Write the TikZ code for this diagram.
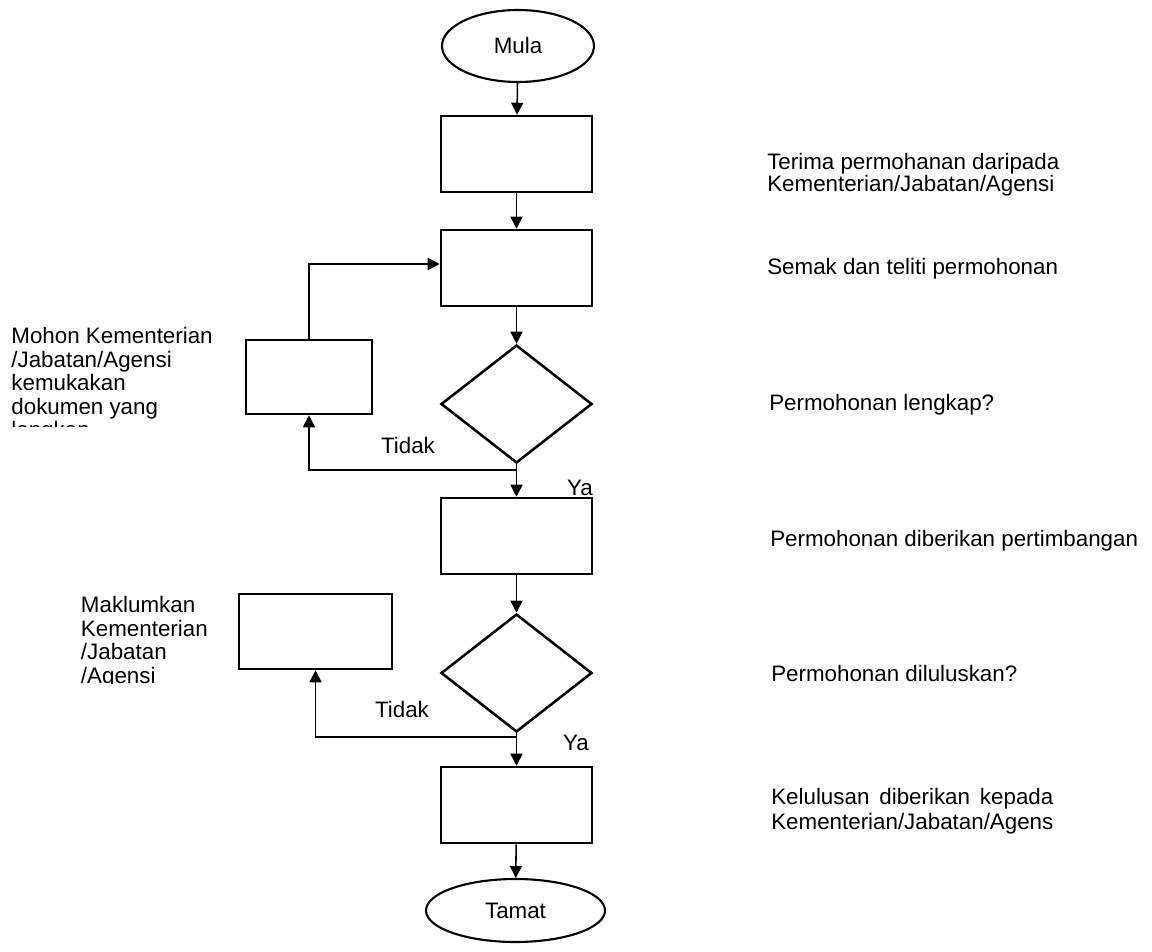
\documentclass[tikz,border=0pt]{standalone}
\usepackage{fontspec}
\setmainfont{Liberation Sans}
\usepackage{calc}
\usetikzlibrary{arrows.meta,shapes.geometric}

\begin{document}
\begin{tikzpicture}[x=0.25mm,y=-0.25mm,>={Triangle[length=3mm,width=3mm]},
                    font=\fontsize{15.9pt}{15.65pt}\selectfont,
                    block/.style={draw,line width=1.8pt,minimum width=37.75mm,
                                  minimum height=19mm,inner sep=0pt},
                    decision/.style={diamond,draw,line width=1.8pt,minimum width=37.75mm,
                                     minimum height=29.5mm,inner sep=0pt},
                    term/.style={ellipse,draw,line width=1.5pt,inner sep=0pt},
                    flow/.style={line width=1.1pt},
                    note/.style={anchor=north west,inner sep=0pt,align=left},
                    lbl/.style={inner sep=0pt}]
   \useasboundingbox (0,0) rectangle (1152,952);
   % main column
   \node[term,minimum width=38mm,minimum height=18mm] (mula) at (518,46) {Mula};
   \node[block] (terima) at (516.5,154) {};
   \node[block] (semak) at (516.5,268) {};
   \node[decision] (lengkap) at (516.5,404) {};
   \node[block] (timbang) at (516.5,536) {};
   \node[decision] (lulus) at (516.5,673) {};
   \node[block] (beri) at (516.5,805) {};
   \node[term,minimum width=44.75mm,minimum height=15.75mm] (tamat) at (515.5,910.5) {Tamat};
   % side boxes
   \node[block,minimum width=31.5mm,minimum height=18.5mm] (mohon) at (309,377) {};
   \node[block,minimum width=38.25mm,minimum height=18.75mm] (maklum) at (315.5,631.5) {};
   \coordinate (tidakA) at (516.5,470);
   \coordinate (tidakB) at (516.5,737);

   \draw[flow,->] (mula) -- (terima);
   \draw[flow,->] (terima) -- (semak);
   \draw[flow,->] (semak) -- (lengkap);
   \draw[flow,->] (lengkap) -- (timbang);
   \draw[flow,->] (timbang) -- (lulus);
   \draw[flow,->] (lulus) -- (beri);
   \draw[flow,->] (beri) -- (tamat);
   \draw[flow,->] (tidakA) -| (mohon);
   \draw[flow,->] (mohon) |- ([yshift=1mm]semak.west);
   \draw[flow,->] (tidakB) -| (maklum);

   \node[lbl] (tidakAlbl) at (408,446) {Tidak};
   \node[lbl] (yaA) at (580,488) {Ya};
   \node[lbl] (tidakBlbl) at (402,710) {Tidak};
   \node[lbl] (yaB) at (576,743) {Ya};

   % notes on the right
   \node[note] (tTerima) at (767,153) {Terima permohanan daripada\\Kementerian/Jabatan/Agensi};
   \node[note] (tSemak) at (767,258) {Semak dan teliti permohonan};
   \node[note] (tLengkap) at (769,394) {Permohonan lengkap?};
   \node[note] (tTimbang) at (770,530) {Permohonan diberikan pertimbangan};
   \node[note] (tLulus) at (771,665) {Permohonan diluluskan?};
   \node[note] (tBeri) at (771,788)
      {\makebox[\widthof{Kementerian/Jabatan/Agens}][s]{Kelulusan diberikan kepada}\\[2.1pt]
       Kementerian/Jabatan/Agens};

   % notes on the left (cut off at the bottom)
   \begin{scope}
      \clip (0,0) rectangle (240,426);
      \node[note,anchor=north east,font=\fontsize{15.9pt}{16.8pt}\selectfont] (tMohon) at (213,327)
         {Mohon Kementerian\\/Jabatan/Agensi\\kemukakan\\dokumen yang\\lengkap};
   \end{scope}
   \begin{scope}
      \clip (0,560) rectangle (236,683);
      \node[note,anchor=north east,font=\fontsize{15.9pt}{16.8pt}\selectfont] (tMaklum) at (208,596)
         {Maklumkan\\Kementerian\\/Jabatan\\/Agensi};
   \end{scope}
\end{tikzpicture}
\end{document}
